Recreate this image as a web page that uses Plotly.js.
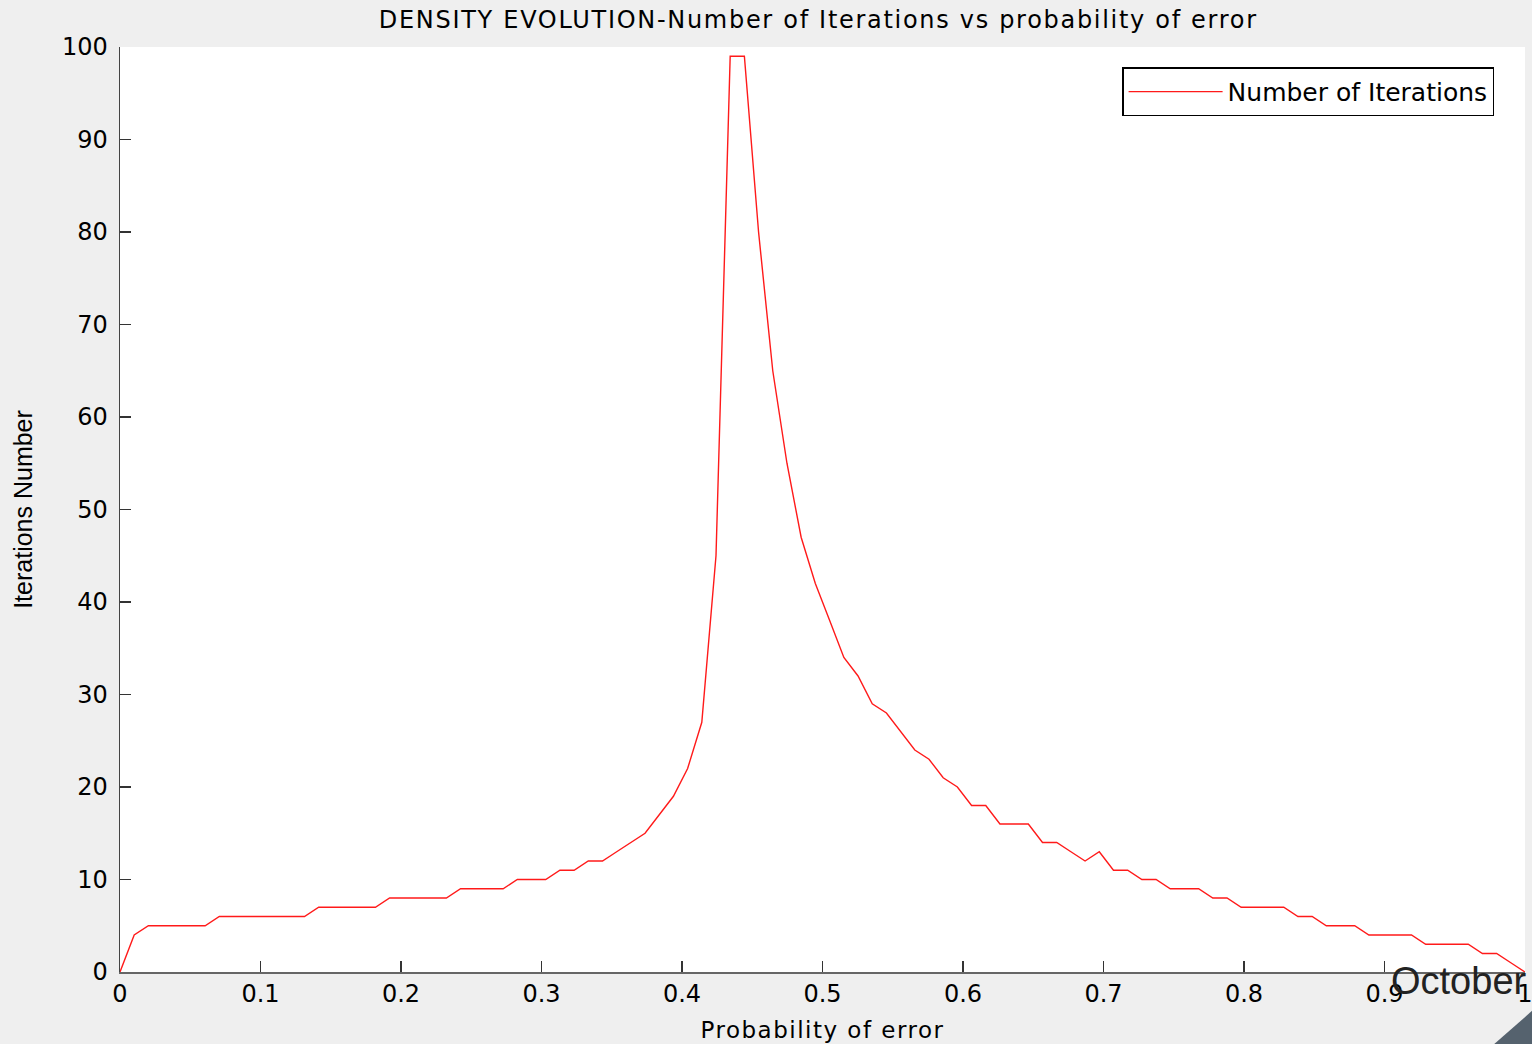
<!DOCTYPE html>
<html>
<head>
<meta charset="utf-8">
<script src="https://cdn.plot.ly/plotly-3.0.1.min.js"></script>
<style>
html,body{margin:0;padding:0;background:#efefef;}
#chart{width:1532px;height:1044px;}
#chart .gtitle{letter-spacing:1.7px;}
#chart .xtitle{letter-spacing:1.5px;}
</style>
</head>
<body>
<div id="chart"></div>
<script>
// Probability of error (x) and number of iterations (y)
const probError = [0, 0.0101, 0.0202, 0.0303, 0.0404, 0.0505, 0.0606, 0.0707, 0.0808, 0.0909,
  0.1010, 0.1111, 0.1212, 0.1313, 0.1414, 0.1515, 0.1616, 0.1717, 0.1818, 0.1919,
  0.2020, 0.2121, 0.2222, 0.2323, 0.2424, 0.2525, 0.2626, 0.2727, 0.2828, 0.2929,
  0.3030, 0.3131, 0.3232, 0.3333, 0.3434, 0.3535, 0.3636, 0.3737, 0.3838, 0.3939,
  0.4040, 0.4141, 0.4242, 0.4343, 0.4444, 0.4545, 0.4646, 0.4747, 0.4848, 0.4949,
  0.5051, 0.5152, 0.5253, 0.5354, 0.5455, 0.5556, 0.5657, 0.5758, 0.5859, 0.5960,
  0.6061, 0.6162, 0.6263, 0.6364, 0.6465, 0.6566, 0.6667, 0.6768, 0.6869, 0.6970,
  0.7071, 0.7172, 0.7273, 0.7374, 0.7475, 0.7576, 0.7677, 0.7778, 0.7879, 0.7980,
  0.8081, 0.8182, 0.8283, 0.8384, 0.8485, 0.8586, 0.8687, 0.8788, 0.8889, 0.8990,
  0.9091, 0.9192, 0.9293, 0.9394, 0.9495, 0.9596, 0.9697, 0.9798, 0.9899, 1];
const iterations = [0, 4, 5, 5, 5, 5, 5, 6, 6, 6,
  6, 6, 6, 6, 7, 7, 7, 7, 7, 8,
  8, 8, 8, 8, 9, 9, 9, 9, 10, 10,
  10, 11, 11, 12, 12, 13, 14, 15, 17, 19,
  22, 27, 45, 99, 99, 80, 65, 55, 47, 42,
  38, 34, 32, 29, 28, 26, 24, 23, 21, 20,
  18, 18, 16, 16, 16, 14, 14, 13, 12, 13,
  11, 11, 10, 10, 9, 9, 9, 8, 8, 7,
  7, 7, 7, 6, 6, 5, 5, 5, 4, 4,
  4, 4, 3, 3, 3, 3, 2, 2, 1, 0];
const xTickVals = [0, 0.1, 0.2, 0.3, 0.4, 0.5, 0.6, 0.7, 0.8, 0.9, 1];
const xTickText = ["0", "0.1", "0.2", "0.3", "0.4", "0.5", "0.6", "0.7", "0.8", "0.9", "1"];
const yTickVals = [0, 10, 20, 30, 40, 50, 60, 70, 80, 90, 100];
const seriesName = "Number of Iterations";

const hfont = "DejaVu Sans, Liberation Sans, Arial, sans-serif";

const trace = {
  x: probError,
  y: iterations,
  type: "scatter",
  mode: "lines",
  name: seriesName,
  line: {color: "#ff1a1a", width: 1.4}
};

const layout = {
  width: 1532,
  height: 1044,
  margin: {l: 120, r: 7, t: 47, b: 72},
  paper_bgcolor: "#efefef",
  plot_bgcolor: "#ffffff",
  font: {family: hfont, size: 23, color: "#000"},
  title: {
    text: "DENSITY EVOLUTION-Number of Iterations vs probability of error",
    font: {family: hfont, size: 24, color: "#000"},
    xref: "paper", x: 0.497, xanchor: "center",
    yref: "container", y: 0.981, yanchor: "middle"
  },
  xaxis: {
    range: [0, 1],
    tickvals: xTickVals,
    ticktext: xTickText,
    ticks: "inside",
    ticklen: 11,
    tickwidth: 1.2,
    tickcolor: "#333",
    showline: true,
    linecolor: "#666",
    linewidth: 1.5,
    showgrid: false,
    zeroline: false,
    mirror: false,
    ticklabeloverflow: "allow",
    tickfont: {family: hfont, size: 24, color: "#000"},
    title: {text: "Probability of error", font: {family: hfont, size: 23, color: "#000"}, standoff: 14}
  },
  yaxis: {
    range: [0, 100],
    tickvals: yTickVals,
    ticks: "inside",
    ticklen: 11,
    tickwidth: 1.2,
    tickcolor: "#333",
    showline: true,
    linecolor: "#444",
    linewidth: 1.5,
    showgrid: false,
    zeroline: false,
    mirror: false,
    ticklabeloverflow: "allow",
    ticklabelstandoff: 6,
    tickfont: {family: hfont, size: 24, color: "#000"},
    title: {text: "Iterations Number", font: {family: "Liberation Sans, Arial, sans-serif", size: 25, color: "#000"}, standoff: 22}
  },
  showlegend: true,
  legend: {
    x: 0.978, xanchor: "right",
    y: 0.978, yanchor: "top",
    bgcolor: "#ffffff",
    bordercolor: "#000",
    borderwidth: 1.5,
    font: {family: hfont, size: 25, color: "#000"},
    itemwidth: 94
  },
  annotations: [{
    text: "October",
    xref: "paper", yref: "paper",
    x: 0.953, y: -0.01,
    xanchor: "center", yanchor: "middle",
    showarrow: false,
    font: {family: "Liberation Sans, Arial, sans-serif", size: 38, color: "#222"}
  }],
  shapes: [{
    type: "path",
    xref: "paper", yref: "paper",
    path: "M 0.978 -0.078 L 1.005 -0.042 L 1.005 -0.078 Z",
    fillcolor: "#55626e",
    line: {width: 0},
    layer: "above"
  }]
};

Plotly.newPlot("chart", [trace], layout, {displayModeBar: false, staticPlot: true});
</script>
</body>
</html>
